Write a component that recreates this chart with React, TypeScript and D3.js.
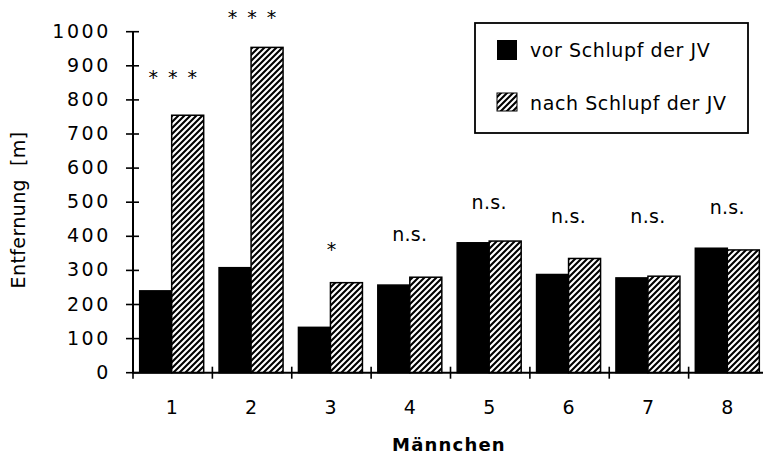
import React from "react";
import * as d3 from "d3";

// Mean distance per male, before and after the young hatched
const males = ["1", "2", "3", "4", "5", "6", "7", "8"];
const beforeHatch = [240, 308, 133, 257, 381, 288, 278, 365];
const afterHatch = [755, 954, 264, 280, 386, 335, 283, 360];
// Significance marks and the value level each mark sits at
const significance = ["* * *", "* * *", "*", "n.s.", "n.s.", "n.s.", "n.s.", "n.s."];
const significanceLevel = [880, 1055, 375, 400, 495, 455, 455, 480];
const yTicks = [0, 100, 200, 300, 400, 500, 600, 700, 800, 900, 1000];
const seriesNames = ["vor Schlupf der JV", "nach Schlupf der JV"];

const W = 763;
const H = 459;
const FONT = "'DejaVu Sans', Verdana, sans-serif";

export default function App() {
  const x0 = d3.scaleBand<string>().domain(males).range([133, 768]).padding(0);
  const pairWidth = 64;
  const x1 = d3
    .scaleBand<string>()
    .domain(["vor", "nach"])
    .range([0, pairWidth])
    .padding(0);
  const y = d3.scaleLinear().domain([0, 1000]).range([372.7, 31.7]);

  const bw = x0.bandwidth();
  const pairOffset = (bw - pairWidth) / 2 - 1;
  const axisX = 133;
  const baseY = y(0);

  const groups = males.map((m, i) => ({
    m,
    vor: beforeHatch[i],
    nach: afterHatch[i],
    sig: significance[i],
    level: significanceLevel[i],
  }));

  return (
    <svg
      width={W}
      height={H}
      style={{ position: "absolute", left: 0, top: 0, background: "#fff" }}
      fontFamily={FONT}
    >
      <defs>
        <pattern
          id="hatch"
          patternUnits="userSpaceOnUse"
          width={6}
          height={6}
        >
          <rect width={6} height={6} fill="#fff" />
          <path
            d="M0,6 L6,0 M-1.5,1.5 L1.5,-1.5 M4.5,7.5 L7.5,4.5"
            stroke="#000"
            strokeWidth={2.1}
          />
        </pattern>
      </defs>

      {/* bars */}
      {groups.map((g) => {
        const gx = (x0(g.m) ?? 0) + pairOffset;
        return (
          <g key={g.m}>
            <rect
              x={gx + (x1("vor") ?? 0)}
              y={y(g.vor)}
              width={x1.bandwidth()}
              height={baseY - y(g.vor)}
              fill="#000"
              stroke="#000"
              strokeWidth={1.5}
            />
            <rect
              x={gx + (x1("nach") ?? 0)}
              y={y(g.nach)}
              width={x1.bandwidth()}
              height={baseY - y(g.nach)}
              fill="url(#hatch)"
              stroke="#000"
              strokeWidth={1.5}
            />
          </g>
        );
      })}

      {/* significance labels */}
      {groups.map((g) => {
        const cx = (x0(g.m) ?? 0) + pairOffset + pairWidth / 2;
        const isStar = g.sig.includes("*");
        return (
          <text
            key={"s" + g.m}
            x={cx + (isStar ? 2 : 0)}
            y={y(g.level) + (isStar ? 11 : 5)}
            textAnchor="middle"
            fontSize={19}
            letterSpacing={isStar ? 2 : 0.3}
            fill="#000"
          >
            {g.sig}
          </text>
        );
      })}

      {/* y axis */}
      <line x1={axisX} x2={axisX} y1={y(1000)} y2={baseY + 1} stroke="#000" strokeWidth={2} />
      {yTicks.map((t) => (
        <g key={"y" + t}>
          <line x1={axisX - 7} x2={axisX + 6} y1={y(t)} y2={y(t)} stroke="#000" strokeWidth={1.6} />
          <text
            x={111}
            y={y(t) + 6}
            textAnchor="end"
            fontSize={19}
            letterSpacing={2.6}
            fill="#000"
          >
            {t}
          </text>
        </g>
      ))}

      {/* x axis */}
      <line x1={axisX} x2={W} y1={baseY} y2={baseY} stroke="#000" strokeWidth={2} />
      {males.slice(1).map((m) => (
        <line
          key={"xt" + m}
          x1={x0(m) ?? 0}
          x2={x0(m) ?? 0}
          y1={baseY - 6}
          y2={baseY + 6}
          stroke="#000"
          strokeWidth={1.6}
        />
      ))}
      <line x1={axisX} x2={axisX} y1={baseY} y2={baseY + 6} stroke="#000" strokeWidth={1.6} />
      {males.map((m) => (
        <text
          key={"xl" + m}
          x={(x0(m) ?? 0) + pairOffset + pairWidth / 2}
          y={414}
          textAnchor="middle"
          fontSize={19}
          fill="#000"
        >
          {m}
        </text>
      ))}

      {/* axis titles */}
      <text
        x={449}
        y={451}
        textAnchor="middle"
        fontSize={18}
        fontWeight="bold"
        letterSpacing={1.2}
        fill="#000"
      >
        Männchen
      </text>
      <text
        transform="translate(25,210) rotate(-90)"
        textAnchor="middle"
        fontSize={19}
        letterSpacing={0.4}
        fill="#000"
        style={{ whiteSpace: "pre" }}
      >
        {"Entfernung  [m]"}
      </text>

      {/* legend */}
      <rect x={475} y={23} width={273} height={110} fill="#fff" stroke="#000" strokeWidth={1.8} />
      <rect x={497} y={40} width={20} height={20} fill="#000" />
      <text x={530} y={57} fontSize={19} letterSpacing={0.6} fill="#000">
        {seriesNames[0]}
      </text>
      <rect x={497} y={93} width={20} height={18} fill="url(#hatch)" stroke="#000" strokeWidth={1} />
      <text x={530} y={110} fontSize={19} letterSpacing={0.6} fill="#000">
        {seriesNames[1]}
      </text>
    </svg>
  );
}
